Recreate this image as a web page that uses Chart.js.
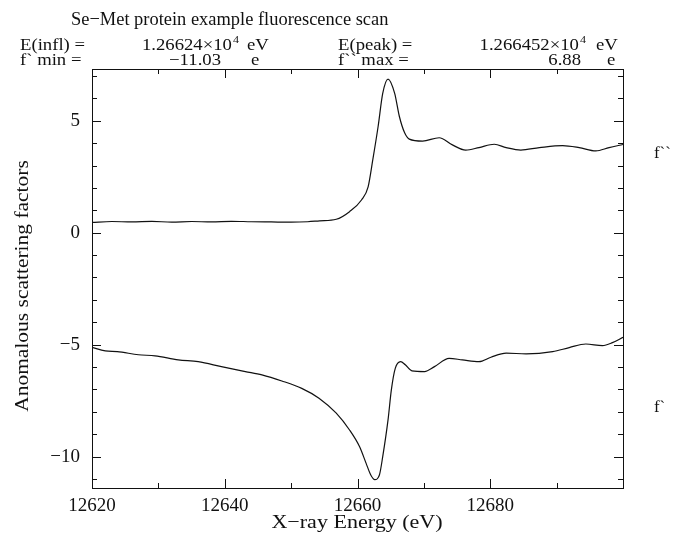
<!DOCTYPE html>
<html>
<head>
<meta charset="utf-8">
<script src="https://cdn.jsdelivr.net/npm/chart.js@4.4.1/dist/chart.umd.min.js"></script>
<style>
  body { margin: 0; background: #fff; }
  canvas { display: block; }
</style>
</head>
<body>
<canvas id="scan" width="678" height="538"></canvas>
<script>
// valeurs (energie en eV)
const fppEnergy = [12620, 12623, 12626, 12629, 12632, 12635, 12638, 12641, 12644, 12647, 12650, 12652.5,
  12654.3, 12656.8, 12658.8, 12660.6, 12661.6, 12662.3, 12663.1, 12663.8, 12664.6, 12665.6, 12666.3,
  12667.1, 12667.8, 12669.8, 12672.3, 12674.3, 12676.3, 12678.3, 12680.6, 12682.4, 12684.6, 12687.4,
  12690.9, 12693.4, 12695.9, 12697.9, 12700];
const fppValues = [0.46, 0.50, 0.48, 0.51, 0.47, 0.50, 0.48, 0.51, 0.49, 0.48, 0.47, 0.49,
  0.53, 0.60, 0.94, 1.46, 2.05, 3.25, 4.73, 6.22, 6.86, 6.22, 5.2,
  4.46, 4.18, 4.09, 4.24, 3.92, 3.69, 3.80, 3.95, 3.80, 3.69, 3.80,
  3.89, 3.80, 3.65, 3.80, 3.94];

const fpEnergy = [12620, 12622, 12623.8, 12627, 12629.5, 12633, 12636, 12639.5, 12643.1, 12645.6, 12648.6,
  12651.6, 12654.2, 12656.8, 12658.8, 12660.3, 12661.3, 12662.0, 12662.6, 12663.3, 12663.8, 12664.6,
  12665.1, 12665.7, 12666.5, 12667.2, 12668.2, 12670.1, 12671.6, 12673.8, 12675.8, 12678.3, 12680.1,
  12682.4, 12685.4, 12689.4, 12691.9, 12694.4, 12696.9, 12698.4, 12700];
const fpValues = [-5.12, -5.28, -5.31, -5.45, -5.50, -5.68, -5.76, -5.98, -6.2, -6.35, -6.62,
  -6.95, -7.39, -8.06, -8.81, -9.55, -10.3, -10.82, -11.03, -10.82, -10.0, -8.36,
  -7.02, -6.05, -5.76, -5.9, -6.17, -6.2, -5.98, -5.61, -5.68, -5.76, -5.56,
  -5.38, -5.41, -5.31, -5.13, -4.97, -5.04, -4.91, -4.67];

const xTicks = [12620, 12640, 12660, 12680];
const xMinorTicks = [12630, 12650, 12670, 12690];
const yTicks = [-10, -5, 0, 5];
const yMinorTicks = [-11, -9, -8, -7, -6, -4, -3, -2, -1, 1, 2, 3, 4, 6, 7];

const FONT = '"Liberation Serif", "DejaVu Serif", serif';
const INK = '#111';

function toPoints(xs, ys) {
  return xs.map((x, i) => ({ x: x, y: ys[i] }));
}

// texte etire en largeur (la police d'origine est plus large)
function txt(ctx, s, x, y, size, sx, align) {
  ctx.save();
  ctx.font = size + 'px ' + FONT;
  const w = ctx.measureText(s).width * sx;
  let x0 = x;
  if (align === 'right') x0 = x - w;
  if (align === 'center') x0 = x - w / 2;
  ctx.translate(x0, y);
  ctx.scale(sx, 1);
  ctx.textAlign = 'left';
  ctx.fillText(s, 0, 0);
  ctx.restore();
  return w;
}

// nombre avec exposant (1.26624x10^4), aligne a droite sur xEnd
function drawSupRight(ctx, base, sup, xEnd, y, size, sx) {
  ctx.font = Math.round(size * 0.65) + 'px ' + FONT;
  const ws = ctx.measureText(sup).width * sx;
  const wb = txt(ctx, base, xEnd - ws - 1, y, size, sx, 'right');
  txt(ctx, sup, xEnd - ws, y - size * 0.42, Math.round(size * 0.65), sx);
  return wb;
}

const framePlugin = {
  id: 'frame',
  afterDraw(chart) {
    const ctx = chart.ctx;
    const a = chart.chartArea;
    const xs = chart.scales.x, ys = chart.scales.y;
    ctx.save();
    ctx.strokeStyle = INK;
    ctx.lineWidth = 1;
    ctx.strokeRect(Math.round(a.left) + 0.5, Math.round(a.top) + 0.5,
      Math.round(a.right - a.left), Math.round(a.bottom - a.top));

    // graduations vers l'interieur, sur les quatre cotes
    ctx.beginPath();
    const tx = (v, len) => {
      const px = Math.round(xs.getPixelForValue(v)) + 0.5;
      ctx.moveTo(px, a.bottom); ctx.lineTo(px, a.bottom - len);
      ctx.moveTo(px, a.top); ctx.lineTo(px, a.top + len);
    };
    const ty = (v, len) => {
      const py = Math.round(ys.getPixelForValue(v)) + 0.5;
      ctx.moveTo(a.left, py); ctx.lineTo(a.left + len, py);
      ctx.moveTo(a.right, py); ctx.lineTo(a.right - len, py);
    };
    xTicks.forEach(v => tx(v, 9));
    xMinorTicks.forEach(v => tx(v, 5));
    yTicks.forEach(v => ty(v, 9));
    yMinorTicks.forEach(v => ty(v, 5));
    ctx.stroke();

    ctx.fillStyle = INK;
    ctx.textBaseline = 'alphabetic';
    txt(ctx, 'Se\u2212Met protein example fluorescence scan', 71, 25, 19, 0.97);

    const hs = 17, hx = 1.1;
    const l2 = 50, l3 = 65;
    txt(ctx, 'E(infl) =', 20, l2, hs, hx);
    drawSupRight(ctx, '1.26624\u00d710', '4', 239, l2, hs, hx);
    txt(ctx, 'eV', 247, l2, hs, hx);
    txt(ctx, 'E(peak) =', 338, l2, hs, hx);
    drawSupRight(ctx, '1.266452\u00d710', '4', 586, l2, hs, hx);
    txt(ctx, 'eV', 596, l2, hs, hx);

    txt(ctx, 'f` min =', 20, l3, hs, hx);
    txt(ctx, '\u221211.03', 221, l3, hs, hx, 'right');
    txt(ctx, 'e', 251, l3, hs, hx);
    txt(ctx, 'f`` max =', 338, l3, hs, hx);
    txt(ctx, '6.88', 581, l3, hs, hx, 'right');
    txt(ctx, 'e', 607, l3, hs, hx);

    // noms des courbes a droite
    txt(ctx, 'f``', 654, 158, 16, 1.05);
    txt(ctx, 'f`', 654, 412, 16, 1.05);

    // titres des axes
    txt(ctx, 'X\u2212ray Energy (eV)', 357, 528, 19, 1.16, 'center');
    ctx.save();
    ctx.translate(28, 286);
    ctx.rotate(-Math.PI / 2);
    txt(ctx, 'Anomalous scattering factors', 0, 0, 19, 1.13, 'center');
    ctx.restore();
    ctx.restore();
  }
};

new Chart(document.getElementById('scan'), {
  type: 'line',
  data: {
    datasets: [
      { label: 'f``', data: toPoints(fppEnergy, fppValues) },
      { label: 'f`', data: toPoints(fpEnergy, fpValues) }
    ]
  },
  options: {
    responsive: false,
    animation: false,
    layout: { padding: { top: 69, right: 55, left: 0, bottom: 0 } },
    elements: {
      point: { radius: 0 },
      line: { borderColor: INK, borderWidth: 1.2, cubicInterpolationMode: 'monotone', fill: false }
    },
    scales: {
      x: {
        type: 'linear',
        min: 12620,
        max: 12700,
        afterBuildTicks: s => { s.ticks = xTicks.map(v => ({ value: v })); },
        afterFit: s => { s.height = 50; },
        grid: { display: false, drawTicks: false },
        border: { display: true, color: INK },
        ticks: {
          padding: 7,
          color: INK,
          maxRotation: 0,
          font: { family: FONT, size: 19 },
          callback: v => String(v)
        }
      },
      y: {
        type: 'linear',
        min: -11.4,
        max: 7.31,
        afterBuildTicks: s => { s.ticks = yTicks.map(v => ({ value: v })); },
        afterFit: s => { s.width = 92; },
        grid: { display: false, drawTicks: false },
        border: { display: true, color: INK },
        ticks: {
          padding: 12,
          color: INK,
          font: { family: FONT, size: 19 },
          callback: v => String(v).replace('-', '\u2212')
        }
      }
    },
    plugins: {
      legend: { display: false },
      tooltip: { enabled: false }
    }
  },
  plugins: [framePlugin]
});
</script>
</body>
</html>
